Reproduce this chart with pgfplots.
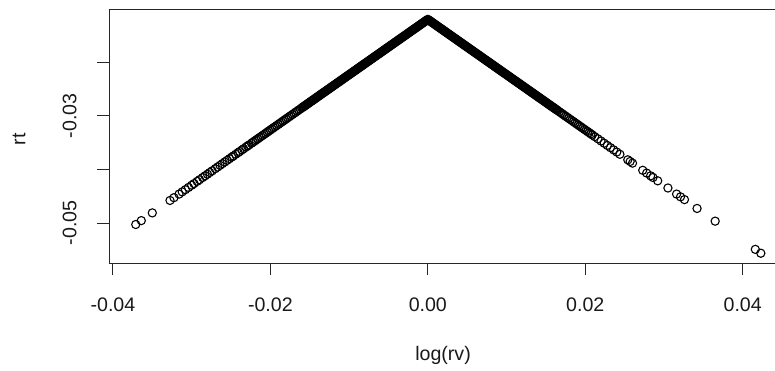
\documentclass[border=0pt]{standalone}
\usepackage{fontspec}
\setmainfont{Liberation Sans}
\usepackage{pgfplots}
\pgfplotsset{compat=1.18}
\begin{document}
\begin{tikzpicture}[x=1bp,y=1bp]
\begin{axis}[
  at={(109bp,107bp)}, anchor=south west,
  scale only axis, width=677bp, height=253bp,
  xmin=-0.0405, xmax=0.0455, ymin=-0.05745, ymax=-0.01031,
  scaled ticks=false,
  axis line style={line width=1bp, black!85},
  tick style={line width=1bp, black!85},
  tick align=outside, major tick length=12bp,
  tick pos=left,
  xtick={-0.04,-0.02,0,0.02,0.04},
  xticklabels={-0.04,-0.02,0.00,0.02,0.04},
  ytick={-0.05,-0.04,-0.03,-0.02},
  yticklabels={-0.05,,-0.03,},
  tick label style={font=\fontsize{19.6bp}{23bp}\selectfont, text=black!90},
  xticklabel shift=19bp,
  yticklabel style={rotate=90, anchor=south},
  yticklabel shift=17bp,
  label style={font=\fontsize{19.6bp}{23bp}\selectfont, text=black!90},
  xlabel={log(rv)},
  xlabel style={at={(axis description cs:0.4934,-0.3834)}, anchor=base},
  ylabel={rt},
  ylabel style={at={(axis description cs:-0.1329,0.49)}, anchor=center},
]
\addplot[only marks, mark=o, mark size=4.1bp, mark options={line width=1.1bp, draw=black}] coordinates {
(0,-0.012060)
(-0.0001,-0.012163) (-0.0002,-0.012266) (-0.0003,-0.012369) (-0.0004,-0.012472) (-0.0005,-0.012575) (-0.0006,-0.012678) (-0.0007,-0.012781) (-0.0008,-0.012884) (-0.0009,-0.012987) (-0.0010,-0.013090)
(-0.0011,-0.013193) (-0.0012,-0.013296) (-0.0013,-0.013399) (-0.0014,-0.013502) (-0.0015,-0.013605) (-0.0016,-0.013708) (-0.0017,-0.013811) (-0.0018,-0.013914) (-0.0019,-0.014017) (-0.0020,-0.014120)
(-0.0021,-0.014223) (-0.0022,-0.014326) (-0.0023,-0.014429) (-0.0024,-0.014532) (-0.0025,-0.014635) (-0.0026,-0.014738) (-0.0027,-0.014841) (-0.0028,-0.014944) (-0.0029,-0.015047) (-0.0030,-0.015150)
(-0.0031,-0.015253) (-0.0032,-0.015356) (-0.0033,-0.015459) (-0.0034,-0.015562) (-0.0035,-0.015665) (-0.0036,-0.015768) (-0.0037,-0.015871) (-0.0038,-0.015974) (-0.0039,-0.016077) (-0.0040,-0.016180)
(-0.0041,-0.016283) (-0.0042,-0.016386) (-0.0043,-0.016489) (-0.0044,-0.016592) (-0.0045,-0.016695) (-0.0046,-0.016798) (-0.0047,-0.016901) (-0.0048,-0.017004) (-0.0049,-0.017107) (-0.0050,-0.017210)
(-0.0051,-0.017313) (-0.0052,-0.017416) (-0.0053,-0.017519) (-0.0054,-0.017622) (-0.0055,-0.017725) (-0.0056,-0.017828) (-0.0057,-0.017931) (-0.0058,-0.018034) (-0.0059,-0.018137) (-0.0060,-0.018240)
(-0.0061,-0.018343) (-0.0062,-0.018446) (-0.0063,-0.018549) (-0.0064,-0.018652) (-0.0065,-0.018755) (-0.0066,-0.018858) (-0.0067,-0.018961) (-0.0068,-0.019064) (-0.0069,-0.019167) (-0.0070,-0.019270)
(-0.0071,-0.019373) (-0.0072,-0.019476) (-0.0073,-0.019579) (-0.0074,-0.019682) (-0.0075,-0.019785) (-0.0076,-0.019888) (-0.0077,-0.019991) (-0.0078,-0.020094) (-0.0079,-0.020197) (-0.0080,-0.020300)
(-0.0081,-0.020403) (-0.0082,-0.020506) (-0.0083,-0.020609) (-0.0084,-0.020712) (-0.0085,-0.020815) (-0.0086,-0.020918) (-0.0087,-0.021021) (-0.0088,-0.021124) (-0.0089,-0.021227) (-0.0090,-0.021330)
(-0.0091,-0.021433) (-0.0092,-0.021536) (-0.0093,-0.021639) (-0.0094,-0.021742) (-0.0095,-0.021845) (-0.0096,-0.021948) (-0.0097,-0.022051) (-0.0098,-0.022154) (-0.0099,-0.022257) (-0.0100,-0.022360)
(-0.0101,-0.022463) (-0.0102,-0.022566) (-0.0103,-0.022669) (-0.0104,-0.022772) (-0.0105,-0.022875) (-0.0106,-0.022978) (-0.0107,-0.023081) (-0.0108,-0.023184) (-0.0109,-0.023287) (-0.0110,-0.023390)
(-0.0111,-0.023493) (-0.0112,-0.023596) (-0.0113,-0.023699) (-0.0114,-0.023802) (-0.0115,-0.023905) (-0.0116,-0.024008) (-0.0117,-0.024111) (-0.0118,-0.024214) (-0.0119,-0.024317) (-0.0120,-0.024420)
(-0.0121,-0.024523) (-0.0122,-0.024626) (-0.0123,-0.024729) (-0.0124,-0.024832) (-0.0125,-0.024935) (-0.0126,-0.025038) (-0.0127,-0.025141) (-0.0128,-0.025244) (-0.0129,-0.025347) (-0.0130,-0.025450)
(-0.0131,-0.025553) (-0.0132,-0.025656) (-0.0133,-0.025759) (-0.0134,-0.025862) (-0.0135,-0.025965) (-0.0136,-0.026068) (-0.0137,-0.026171) (-0.0138,-0.026274) (-0.0139,-0.026377) (-0.0140,-0.026480)
(-0.0141,-0.026583) (-0.0142,-0.026686) (-0.0143,-0.026789) (-0.0144,-0.026892) (-0.0145,-0.026995) (-0.0146,-0.027098) (-0.0147,-0.027201) (-0.0148,-0.027304) (-0.0149,-0.027407) (-0.0150,-0.027510)
(-0.0151,-0.027613) (-0.0152,-0.027716) (-0.0153,-0.027819) (-0.0154,-0.027922) (-0.0155,-0.028025) (-0.0156,-0.028128) (-0.0157,-0.028231) (-0.0158,-0.028334) (-0.0159,-0.028437) (-0.0160,-0.028540)
(-0.0162,-0.028746) (-0.0164,-0.028952) (-0.0166,-0.029158) (-0.0168,-0.029364) (-0.0170,-0.029570) (-0.0172,-0.029776) (-0.0174,-0.029982) (-0.0176,-0.030188) (-0.0178,-0.030394) (-0.0180,-0.030600)
(-0.0182,-0.030806) (-0.0184,-0.031012) (-0.0186,-0.031218) (-0.0188,-0.031424) (-0.0190,-0.031630) (-0.0192,-0.031836) (-0.0194,-0.032042) (-0.0196,-0.032248) (-0.0198,-0.032454) (-0.0200,-0.032660)
(-0.0202,-0.032866) (-0.0204,-0.033072) (-0.0206,-0.033278) (-0.0208,-0.033484) (-0.0210,-0.033690) (-0.0212,-0.033896) (-0.0214,-0.034102) (-0.0216,-0.034308) (-0.0218,-0.034514) (-0.0220,-0.034720)
(-0.0222,-0.034926) (-0.0224,-0.035132)
(-0.0227,-0.035441) (-0.0229,-0.035647) (-0.0231,-0.035853) (-0.0234,-0.036162) (-0.0236,-0.036368) (-0.0239,-0.036677) (-0.0241,-0.036883) (-0.0244,-0.037192) (-0.0247,-0.037501) (-0.0249,-0.037707)
(-0.0252,-0.038016) (-0.0255,-0.038325) (-0.0258,-0.038634) (-0.0261,-0.038943) (-0.0264,-0.039252) (-0.0267,-0.039561) (-0.0270,-0.039870) (-0.0274,-0.040282) (-0.0277,-0.040591) (-0.0280,-0.040900)
(-0.0283,-0.041209) (-0.0286,-0.041518) (-0.0290,-0.041930) (-0.0293,-0.042239) (-0.0297,-0.042651) (-0.0300,-0.042960) (-0.0304,-0.043372) (-0.0308,-0.043784) (-0.0312,-0.044196) (-0.0316,-0.044608)
(-0.03225,-0.045278) (-0.03275,-0.045793) (-0.0350,-0.048110) (-0.0364,-0.049552) (-0.0371,-0.050273)
(0.0001,-0.012163) (0.0002,-0.012266) (0.0003,-0.012369) (0.0004,-0.012472) (0.0005,-0.012575) (0.0006,-0.012678) (0.0007,-0.012781) (0.0008,-0.012884) (0.0009,-0.012987) (0.0010,-0.013090)
(0.0011,-0.013193) (0.0012,-0.013296) (0.0013,-0.013399) (0.0014,-0.013502) (0.0015,-0.013605) (0.0016,-0.013708) (0.0017,-0.013811) (0.0018,-0.013914) (0.0019,-0.014017) (0.0020,-0.014120)
(0.0021,-0.014223) (0.0022,-0.014326) (0.0023,-0.014429) (0.0024,-0.014532) (0.0025,-0.014635) (0.0026,-0.014738) (0.0027,-0.014841) (0.0028,-0.014944) (0.0029,-0.015047) (0.0030,-0.015150)
(0.0031,-0.015253) (0.0032,-0.015356) (0.0033,-0.015459) (0.0034,-0.015562) (0.0035,-0.015665) (0.0036,-0.015768) (0.0037,-0.015871) (0.0038,-0.015974) (0.0039,-0.016077) (0.0040,-0.016180)
(0.0041,-0.016283) (0.0042,-0.016386) (0.0043,-0.016489) (0.0044,-0.016592) (0.0045,-0.016695) (0.0046,-0.016798) (0.0047,-0.016901) (0.0048,-0.017004) (0.0049,-0.017107) (0.0050,-0.017210)
(0.0051,-0.017313) (0.0052,-0.017416) (0.0053,-0.017519) (0.0054,-0.017622) (0.0055,-0.017725) (0.0056,-0.017828) (0.0057,-0.017931) (0.0058,-0.018034) (0.0059,-0.018137) (0.0060,-0.018240)
(0.0061,-0.018343) (0.0062,-0.018446) (0.0063,-0.018549) (0.0064,-0.018652) (0.0065,-0.018755) (0.0066,-0.018858) (0.0067,-0.018961) (0.0068,-0.019064) (0.0069,-0.019167) (0.0070,-0.019270)
(0.0071,-0.019373) (0.0072,-0.019476) (0.0073,-0.019579) (0.0074,-0.019682) (0.0075,-0.019785) (0.0076,-0.019888) (0.0077,-0.019991) (0.0078,-0.020094) (0.0079,-0.020197) (0.0080,-0.020300)
(0.0081,-0.020403) (0.0082,-0.020506) (0.0083,-0.020609) (0.0084,-0.020712) (0.0085,-0.020815) (0.0086,-0.020918) (0.0087,-0.021021) (0.0088,-0.021124) (0.0089,-0.021227) (0.0090,-0.021330)
(0.0091,-0.021433) (0.0092,-0.021536) (0.0093,-0.021639) (0.0094,-0.021742) (0.0095,-0.021845) (0.0096,-0.021948) (0.0097,-0.022051) (0.0098,-0.022154) (0.0099,-0.022257) (0.0100,-0.022360)
(0.0101,-0.022463) (0.0102,-0.022566) (0.0103,-0.022669) (0.0104,-0.022772) (0.0105,-0.022875) (0.0106,-0.022978) (0.0107,-0.023081) (0.0108,-0.023184) (0.0109,-0.023287) (0.0110,-0.023390)
(0.0111,-0.023493) (0.0112,-0.023596) (0.0113,-0.023699) (0.0114,-0.023802) (0.0115,-0.023905) (0.0116,-0.024008) (0.0117,-0.024111) (0.0118,-0.024214) (0.0119,-0.024317) (0.0120,-0.024420)
(0.0121,-0.024523) (0.0122,-0.024626) (0.0123,-0.024729) (0.0124,-0.024832) (0.0125,-0.024935) (0.0126,-0.025038) (0.0127,-0.025141) (0.0128,-0.025244) (0.0129,-0.025347) (0.0130,-0.025450)
(0.0131,-0.025553) (0.0132,-0.025656) (0.0133,-0.025759) (0.0134,-0.025862) (0.0135,-0.025965) (0.0136,-0.026068) (0.0137,-0.026171) (0.0138,-0.026274) (0.0139,-0.026377) (0.0140,-0.026480)
(0.0141,-0.026583) (0.0142,-0.026686) (0.0143,-0.026789) (0.0144,-0.026892) (0.0145,-0.026995) (0.0146,-0.027098) (0.0147,-0.027201) (0.0148,-0.027304) (0.0149,-0.027407) (0.0150,-0.027510)
(0.0151,-0.027613) (0.0152,-0.027716) (0.0153,-0.027819) (0.0154,-0.027922) (0.0155,-0.028025) (0.0156,-0.028128) (0.0157,-0.028231) (0.0158,-0.028334) (0.0159,-0.028437) (0.0160,-0.028540)
(0.0161,-0.028643) (0.0162,-0.028746) (0.0163,-0.028849) (0.0164,-0.028952) (0.0165,-0.029055)
(0.0167,-0.029261) (0.0169,-0.029467) (0.0171,-0.029673) (0.0173,-0.029879) (0.0175,-0.030085) (0.0177,-0.030291) (0.0179,-0.030497) (0.0181,-0.030703) (0.0183,-0.030909) (0.0185,-0.031115)
(0.0187,-0.031321) (0.0189,-0.031527) (0.0191,-0.031733) (0.0193,-0.031939) (0.0195,-0.032145) (0.0197,-0.032351) (0.0199,-0.032557) (0.0201,-0.032763) (0.0203,-0.032969) (0.0205,-0.033175)
(0.0207,-0.033381) (0.0209,-0.033587)
(0.0212,-0.033896) (0.0216,-0.034308) (0.0220,-0.034720) (0.0224,-0.035132) (0.0228,-0.035544) (0.0232,-0.035956) (0.0236,-0.036368) (0.0240,-0.036780) (0.0244,-0.037192) (0.0254,-0.038222)
(0.0257,-0.038531) (0.0260,-0.038840) (0.0273,-0.040179) (0.0278,-0.040694) (0.0283,-0.041209) (0.0286,-0.041518) (0.0292,-0.042136) (0.0305,-0.043475) (0.0316,-0.044608) (0.0321,-0.045123)
(0.0326,-0.045638) (0.0342,-0.047286) (0.0365,-0.049655) (0.0416,-0.054908) (0.0423,-0.055629)
};
\end{axis}
\pgfresetboundingbox
\useasboundingbox (0,0) rectangle (775,370);
\end{tikzpicture}
\end{document}
